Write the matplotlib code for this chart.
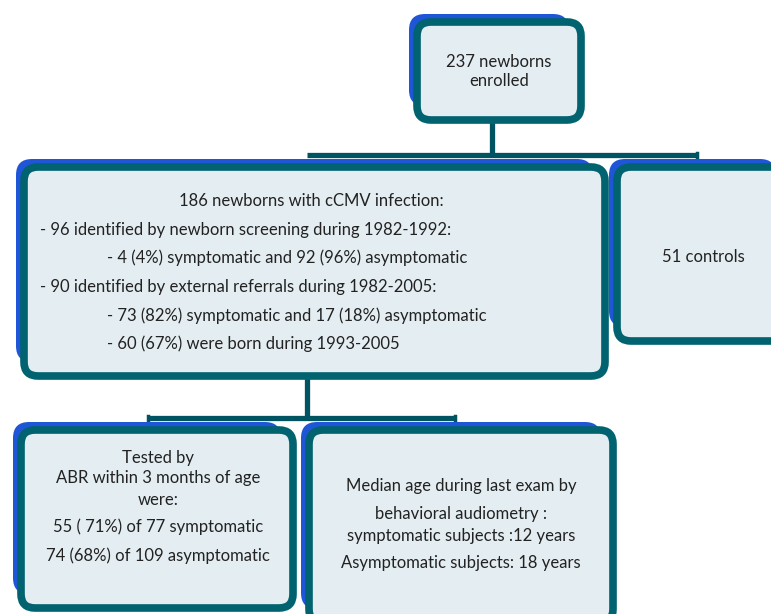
import matplotlib
matplotlib.use("Agg")
import matplotlib.pyplot as plt
from matplotlib.patches import FancyBboxPatch

# boxes: (x0, y0, x1, y1) in picture pixels, top-left origin
box_names = ["enrolled", "cmv", "controls", "abr", "median"]
box_extent = [(415, 20, 583, 122),
              (22, 165, 607, 378),
              (615, 165, 790, 343),
              (19, 428, 295, 610),
              (307, 428, 615, 625)]

# text lines: (box, x, y, ha, text)
line_box = [0, 0, 1, 1, 1, 1, 1, 1, 2, 3, 3, 3, 3, 3, 4, 4, 4, 4]
line_x = [499, 499, 311, 40, 107, 40, 107, 107, 703, 158, 158, 158, 158, 158,
          461, 461, 461, 461]
line_y = [62, 81, 201, 230, 258, 287, 316, 344, 257, 458, 478, 500, 527, 556,
          486, 514, 536, 563]
line_ha = ["center", "center", "center", "left", "left", "left", "left", "left",
           "center", "center", "center", "center", "center", "center",
           "center", "center", "center", "center"]
line_text = ["237 newborns", "enrolled",
             "186 newborns with cCMV infection:",
             "- 96 identified by newborn screening during 1982-1992:",
             "- 4 (4%) symptomatic and 92 (96%) asymptomatic",
             "- 90 identified by external referrals during 1982-2005:",
             "- 73 (82%) symptomatic and 17 (18%) asymptomatic",
             "- 60 (67%) were born during 1993-2005",
             "51 controls",
             "Tested by", "ABR within 3 months of age", "were:",
             "55 ( 71%) of 77 symptomatic", "74 (68%) of 109 asymptomatic",
             "Median age during last exam by", "behavioral audiometry :",
             "symptomatic subjects :12 years", "Asymptomatic subjects: 18 years"]

# connectors as polylines
conn_x = [[492, 492], [307, 697], [307, 307], [148, 455]]
conn_y = [[122, 155], [155, 155], [378, 418], [418, 418]]

blue = "#1f56d8"
teal = "#00636f"
fill = "#e4edf1"
dark = "#005461"

W, H = 771, 614
fig = plt.figure(figsize=(W / 100, H / 100), dpi=100)
ax = fig.add_axes([0, 0, 1, 1])
ax.set_xlim(0, W)
ax.set_ylim(H, 0)
ax.axis("off")

# connectors (drawn first, boxes sit on top)
for xs, ys in zip(conn_x, conn_y):
    ax.plot(xs, ys, color=dark, lw=3.8, solid_capstyle="butt", zorder=1)
# small vertical stubs down from horizontal bars
ax.plot([697, 697], [153, 162], color=dark, lw=2.5, zorder=1)
ax.plot([148, 148], [416, 425], color=dark, lw=2.5, zorder=1)
ax.plot([455, 455], [416, 425], color=dark, lw=2.5, zorder=1)

r = 16
for (x0, y0, x1, y1) in box_extent:
    shadow = FancyBboxPatch((x0 - 6 + r, y0 - 6 + r), (x1 - x0) - 2 * r - 8, (y1 - y0) - 2 * r - 10,
                            boxstyle=f"round,pad={r}", fc=blue, ec="none", zorder=2)
    ax.add_patch(shadow)
    box = FancyBboxPatch((x0 + r, y0 + r), (x1 - x0) - 2 * r, (y1 - y0) - 2 * r,
                         boxstyle=f"round,pad={r - 2}", fc=fill, ec=teal, lw=5.5, zorder=3)
    ax.add_patch(box)

for b, x, y, ha, t in zip(line_box, line_x, line_y, line_ha, line_text):
    ax.text(x, y, t, ha=ha, va="center", fontsize=12, color="#222222",
            family=["Lato", "DejaVu Sans"], zorder=4)

fig.savefig("out.png", dpi=100)
